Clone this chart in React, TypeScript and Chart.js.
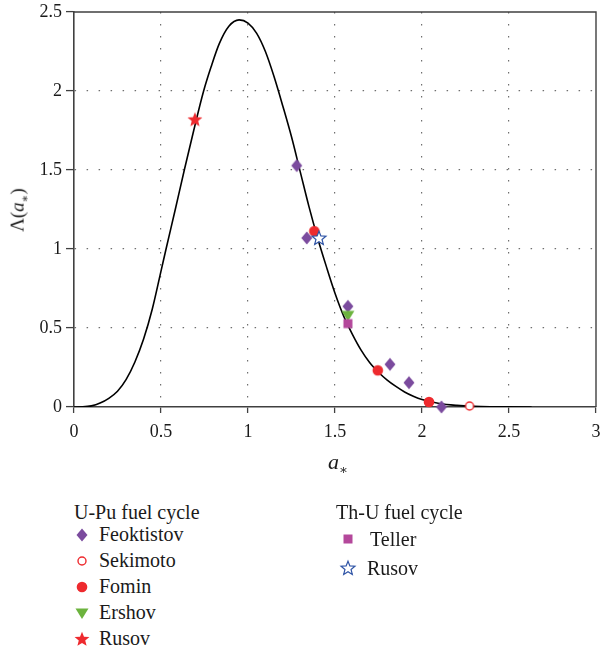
import React, { useEffect, useRef } from "react";
import { Chart, registerables } from "chart.js";

Chart.register(...registerables);

// ---------- data ----------
const curveX = [0, 0.05, 0.1, 0.15, 0.2, 0.25, 0.3, 0.35, 0.4, 0.45, 0.5, 0.529, 0.582, 0.634, 0.688, 0.745, 0.787, 0.835, 0.89, 0.949, 1.0, 1.05, 1.1, 1.15, 1.2, 1.25, 1.3, 1.35, 1.4, 1.45, 1.5, 1.55, 1.6, 1.65, 1.7, 1.75, 1.8, 1.85, 1.9, 1.95, 2.0, 2.1, 2.2, 2.3, 2.4, 2.5, 2.63];
const curveY = [0, 0.001, 0.007, 0.025, 0.055, 0.1, 0.175, 0.285, 0.43, 0.62, 0.86, 1.0, 1.25, 1.5, 1.75, 2.0, 2.15, 2.3, 2.41, 2.45, 2.43, 2.365, 2.25, 2.09, 1.905, 1.71, 1.49, 1.27, 1.07, 0.89, 0.72, 0.575, 0.46, 0.36, 0.28, 0.22, 0.17, 0.13, 0.095, 0.068, 0.047, 0.022, 0.01, 0.004, 0.0015, 0.0005, 0];

const feoktistovX = [1.28, 1.338, 1.574, 1.816, 1.925, 2.112];
const feoktistovY = [1.528, 1.07, 0.637, 0.27, 0.154, 0.0];
const sekimotoX = [2.273];
const sekimotoY = [0.006];
const fominX = [1.381, 1.746, 2.04];
const fominY = [1.113, 0.232, 0.032];
const ershovX = [1.574];
const ershovY = [0.58];
const rusovUPuX = [0.695];
const rusovUPuY = [1.82];
const tellerX = [1.574];
const tellerY = [0.528];
const rusovThUX = [1.408];
const rusovThUY = [1.07];

const xTicks = [0, 0.5, 1, 1.5, 2, 2.5, 3];
const xTickLabels = ["0", "0.5", "1", "1.5", "2", "2.5", "3"];
const yTicks = [0, 0.5, 1, 1.5, 2, 2.5];
const yTickLabels = ["0", "0.5", "1", "1.5", "2", "2.5"];

const upuTitle = "U-Pu fuel cycle";
const upuNames = ["Feoktistov", "Sekimoto", "Fomin", "Ershov", "Rusov"];
const thuTitle = "Th-U fuel cycle";
const thuNames = ["Teller", "Rusov"];

// ---------- styling ----------
const SERIF = '"Liberation Serif", "DejaVu Serif", "Times New Roman", serif';
const AXIS = "#404040";
const GRID = "#6f6f6f";
const PURPLE = "#7b4b9e";
const RED = "#ee2a2e";
const GREEN = "#6cb33e";
const MAGENTA = "#b4489b";
const BLUE = "#2f54a6";

type Kind = "diamond" | "openCircle" | "dot" | "triDown" | "starFill" | "square" | "starOpen";

function starPath(ctx: CanvasRenderingContext2D, cx: number, cy: number, R: number, r: number) {
  ctx.beginPath();
  for (let i = 0; i < 10; i++) {
    const a = -Math.PI / 2 + (i * Math.PI) / 5;
    const rad = i % 2 === 0 ? R : r;
    const px = cx + rad * Math.cos(a);
    const py = cy + rad * Math.sin(a);
    if (i === 0) ctx.moveTo(px, py);
    else ctx.lineTo(px, py);
  }
  ctx.closePath();
}

function drawMarker(ctx: CanvasRenderingContext2D, kind: Kind, cx: number, cy: number) {
  ctx.save();
  switch (kind) {
    case "diamond":
      ctx.fillStyle = PURPLE;
      ctx.beginPath();
      ctx.moveTo(cx, cy - 6.5);
      ctx.lineTo(cx + 5.5, cy);
      ctx.lineTo(cx, cy + 6.5);
      ctx.lineTo(cx - 5.5, cy);
      ctx.closePath();
      ctx.fill();
      break;
    case "openCircle":
      ctx.fillStyle = "#ffffff";
      ctx.strokeStyle = RED;
      ctx.lineWidth = 1.4;
      ctx.beginPath();
      ctx.arc(cx, cy, 4, 0, Math.PI * 2);
      ctx.fill();
      ctx.stroke();
      break;
    case "dot":
      ctx.fillStyle = RED;
      ctx.beginPath();
      ctx.arc(cx, cy, 5.3, 0, Math.PI * 2);
      ctx.fill();
      break;
    case "triDown":
      ctx.fillStyle = GREEN;
      ctx.beginPath();
      ctx.moveTo(cx - 6.5, cy - 4.5);
      ctx.lineTo(cx + 6.5, cy - 4.5);
      ctx.lineTo(cx, cy + 6);
      ctx.closePath();
      ctx.fill();
      break;
    case "starFill":
      ctx.fillStyle = RED;
      starPath(ctx, cx, cy + 0.5, 7.8, 3.4);
      ctx.fill();
      break;
    case "square":
      ctx.fillStyle = MAGENTA;
      ctx.fillRect(cx - 4.5, cy - 4.5, 9, 9);
      break;
    case "starOpen":
      ctx.fillStyle = "#ffffff";
      ctx.strokeStyle = BLUE;
      ctx.lineWidth = 1.2;
      starPath(ctx, cx, cy + 0.5, 7.3, 3.2);
      ctx.fill();
      ctx.stroke();
      break;
  }
  ctx.restore();
}

function makeMarker(kind: Kind): HTMLCanvasElement {
  const c = document.createElement("canvas");
  c.width = 20;
  c.height = 20;
  const ctx = c.getContext("2d");
  if (ctx) drawMarker(ctx, kind, 10, 10);
  return c;
}

function pts(xs: number[], ys: number[]) {
  return xs.map((x, i) => ({ x, y: ys[i] }));
}

const boxPlugin = {
  id: "boxPlugin",
  afterDraw(chart: any) {
    const { ctx, chartArea } = chart;
    ctx.save();
    ctx.strokeStyle = AXIS;
    ctx.lineWidth = 1.4;
    ctx.beginPath();
    ctx.moveTo(chartArea.left, chartArea.top);
    ctx.lineTo(chartArea.right, chartArea.top);
    ctx.lineTo(chartArea.right, chartArea.bottom);
    ctx.stroke();
    ctx.restore();
  },
};

function LegendMarker({ kind, x, y }: { kind: Kind; x: number; y: number }) {
  const ref = useRef<HTMLCanvasElement>(null);
  useEffect(() => {
    const c = ref.current;
    if (!c) return;
    const ctx = c.getContext("2d");
    if (!ctx) return;
    ctx.clearRect(0, 0, 20, 20);
    drawMarker(ctx, kind, 10, 10);
  }, [kind]);
  return (
    <canvas
      ref={ref}
      width={20}
      height={20}
      style={{ position: "absolute", left: x - 10, top: y - 10, width: 20, height: 20 }}
    />
  );
}

function LegendText({ text, x, y }: { text: string; x: number; y: number }) {
  return (
    <div
      style={{
        position: "absolute",
        left: x,
        top: y - 12,
        height: 24,
        lineHeight: "24px",
        fontFamily: SERIF,
        fontSize: 20,
        color: "#1a1a1a",
        whiteSpace: "nowrap",
      }}
    >
      {text}
    </div>
  );
}

const upuKinds: Kind[] = ["diamond", "openCircle", "dot", "triDown", "starFill"];
const thuKinds: Kind[] = ["square", "starOpen"];

const CANVAS_W = 605;
const CANVAS_H = 460;

export default function App() {
  const canvasRef = useRef<HTMLCanvasElement>(null);

  useEffect(() => {
    const canvas = canvasRef.current;
    if (!canvas) return;
    const mk = {
      diamond: makeMarker("diamond"),
      openCircle: makeMarker("openCircle"),
      dot: makeMarker("dot"),
      triDown: makeMarker("triDown"),
      starFill: makeMarker("starFill"),
      square: makeMarker("square"),
      starOpen: makeMarker("starOpen"),
    };
    const markerDs = (label: string, data: any[], style: HTMLCanvasElement) => ({
      label,
      data,
      showLine: false,
      pointStyle: style,
      pointRadius: 8,
      pointHoverRadius: 8,
      clip: false as any,
      order: 1,
    });

    const chart = new Chart(canvas, {
      type: "scatter",
      data: {
        datasets: [
          {
            label: "curve",
            data: pts(curveX, curveY),
            showLine: true,
            borderColor: "#000000",
            borderWidth: 1.6,
            pointRadius: 0,
            pointHoverRadius: 0,
            cubicInterpolationMode: "monotone",
            fill: false,
            order: 10,
          } as any,
          markerDs("Rusov (U-Pu)", pts(rusovUPuX, rusovUPuY), mk.starFill),
          markerDs("Teller", pts(tellerX, tellerY), mk.square),
          markerDs("Ershov", pts(ershovX, ershovY), mk.triDown),
          markerDs("Feoktistov", pts(feoktistovX, feoktistovY), mk.diamond),
          markerDs("Rusov (Th-U)", pts(rusovThUX, rusovThUY), mk.starOpen),
          markerDs("Fomin", pts(fominX, fominY), mk.dot),
          markerDs("Sekimoto", pts(sekimotoX, sekimotoY), mk.openCircle),
        ],
      },
      options: {
        responsive: false,
        animation: false,
        devicePixelRatio: 1,
        layout: { padding: { top: 12, right: 0, left: 0, bottom: 0 } },
        plugins: {
          legend: { display: false },
          tooltip: { enabled: false },
        },
        scales: {
          x: {
            type: "linear",
            min: 0,
            max: 3,
            afterBuildTicks: (s: any) => {
              s.ticks = xTicks.map((v) => ({ value: v }));
            },
            afterFit: (s: any) => {
              s.height = 53;
              s.paddingLeft = 0;
              s.paddingRight = 0;
            },
            ticks: {
              autoSkip: false,
              maxRotation: 0,
              minRotation: 0,
              padding: 8,
              color: "#1a1a1a",
              font: { family: SERIF, size: 18 },
              callback: (_v: any, i: number) => xTickLabels[i],
            },
            grid: {
              color: (c: any) =>
                c.tick && (c.tick.value === 0 || c.tick.value === 3) ? "rgba(0,0,0,0)" : GRID,
              lineWidth: 1.2,
              tickColor: AXIS,
              tickLength: 6,
              tickWidth: 1.3,
            },
            border: { display: true, color: AXIS, width: 1.6, dash: [1.5, 10.5] },
          },
          y: {
            type: "linear",
            min: 0,
            max: 2.5,
            afterBuildTicks: (s: any) => {
              s.ticks = yTicks.map((v) => ({ value: v }));
            },
            afterFit: (s: any) => {
              s.width = 74;
              s.paddingTop = 0;
              s.paddingBottom = 0;
            },
            ticks: {
              autoSkip: false,
              padding: 4,
              color: "#1a1a1a",
              font: { family: SERIF, size: 18 },
              callback: (_v: any, i: number) => yTickLabels[i],
            },
            grid: {
              color: (c: any) =>
                c.tick && (c.tick.value === 0 || c.tick.value === 2.5) ? "rgba(0,0,0,0)" : GRID,
              lineWidth: 1.2,
              tickColor: AXIS,
              tickLength: 8,
              tickWidth: 1.3,
            },
            border: { display: true, color: AXIS, width: 1.6, dash: [1.5, 10.5] },
          },
        },
      },
      plugins: [boxPlugin],
    });
    return () => {
      chart.destroy();
    };
  }, []);

  return (
    <div
      style={{
        position: "absolute",
        left: 0,
        top: 0,
        width: 600,
        height: 652,
        background: "#ffffff",
        overflow: "hidden",
      }}
    >
      <canvas
        ref={canvasRef}
        width={CANVAS_W}
        height={CANVAS_H}
        style={{ position: "absolute", left: 0, top: 0, width: CANVAS_W, height: CANVAS_H }}
      />
      {/* y-axis title */}
      <div
        style={{
          position: "absolute",
          left: 21,
          top: 210,
          transform: "translate(-50%, -50%) rotate(-90deg)",
          fontFamily: SERIF,
          fontSize: 19,
          color: "#1a1a1a",
          whiteSpace: "nowrap",
          lineHeight: "22px",
        }}
      >
        Λ(<i>a</i>
        <sub style={{ fontSize: "0.6em" }}>∗</sub>)
      </div>
      {/* x-axis title */}
      <div
        style={{
          position: "absolute",
          left: 338,
          top: 466,
          transform: "translate(-50%, -50%)",
          fontFamily: SERIF,
          fontSize: 22,
          color: "#1a1a1a",
          whiteSpace: "nowrap",
          lineHeight: "24px",
        }}
      >
        <i>a</i>
        <sub style={{ fontSize: "0.6em" }}>∗</sub>
      </div>
      {/* legend */}
      <LegendText text={upuTitle} x={74} y={512} />
      {upuNames.map((n, i) => (
        <React.Fragment key={"u" + i}>
          <LegendMarker kind={upuKinds[i]} x={82} y={535 + i * 26.1} />
          <LegendText text={n} x={99} y={534 + i * 26.1} />
        </React.Fragment>
      ))}
      <LegendText text={thuTitle} x={336} y={512} />
      {thuNames.map((n, i) => (
        <React.Fragment key={"t" + i}>
          <LegendMarker kind={thuKinds[i]} x={348} y={539 + i * 29} />
          <LegendText text={n} x={i === 0 ? 370 : 367} y={539 + i * 29} />
        </React.Fragment>
      ))}
    </div>
  );
}
